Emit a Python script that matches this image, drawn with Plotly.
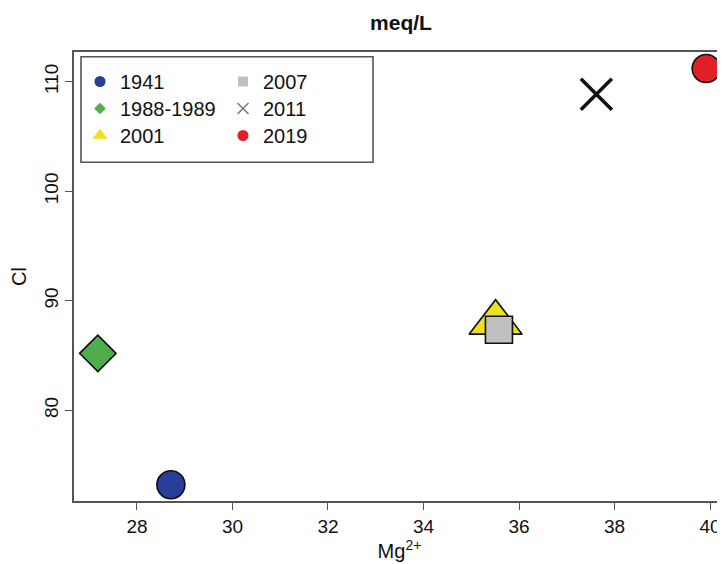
import plotly.graph_objects as go

# ---- data ----
years = ["1941", "1988-1989", "2001", "2007", "2011", "2019"]
mg = [28.71, 27.18, 35.51, 35.58, 37.62, 39.92]
cl = [73.2, 85.2, 88.0, 87.35, 108.85, 111.2]

x_ticks = [28, 30, 32, 34, 36, 38, 40]
y_ticks = [80, 90, 100, 110]

# ---- styling ----
symbols = ["circle", "diamond", "triangle-up", "square", "x-thin-open", "circle"]
fills = ["#283f99", "#4fae4c", "#ede11b", "#c0c0c0", "#111111", "#e21f26"]
sizes = [28, 28, 46, 27, 31, 28]
leg_sizes = [11, 9, 13, 10, 11, 11]
leg_colors = ["#283f99", "#4fae4c", "#ede11b", "#c0c0c0", "#777777", "#e21f26"]
FONT = "Liberation Sans, Arial, Helvetica, sans-serif"

# page body has an 8px margin: figure is drawn 8px right/down of the window corner
OFF = 8
W, H = 725 - OFF, 564 - OFF
L, T, B = 74 - OFF, 52 - OFF, 564 - 501
pw, ph = W - L, H - T - B


def px(xp):  # window pixel -> paper x
    return (xp - OFF - L) / pw


def py(yp):  # window pixel -> paper y
    return (H - B - (yp - OFF)) / ph


fig = go.Figure()

for i, yr in enumerate(years):
    is_x = symbols[i].startswith("x")
    fig.add_trace(go.Scatter(
        x=[mg[i]], y=[cl[i]], mode="markers", name=yr, showlegend=False,
        marker=dict(symbol=symbols[i], size=sizes[i], color=fills[i],
                    line=dict(color="#111111", width=3.5 if is_x else 1.6)),
    ))

# legend rows: (left column entry, right column entry)
rows = [(0, 3), (1, 4), (2, 5)]
row_y = [82, 109, 136]
leg_names = ["legend", "legend2", "legend3"]
for r, (a, b) in enumerate(rows):
    for i in (a, b):
        is_x = symbols[i].startswith("x")
        fig.add_trace(go.Scatter(
            x=[None], y=[None], mode="markers", name=years[i],
            legend=leg_names[r],
            marker=dict(symbol=symbols[i], size=leg_sizes[i], color=leg_colors[i],
                        line=dict(color=leg_colors[i], width=1.5 if is_x else 0)),
        ))

leg_common = dict(font=dict(family=FONT, size=20, color="#111111"),
                  bgcolor="rgba(0,0,0,0)", borderwidth=0, orientation="h",
                  itemsizing="trace", xanchor="left", yanchor="top",
                  entrywidth=98, entrywidthmode="pixels")
legends = {leg_names[r]: dict(x=px(80), y=py(row_y[r] - 20), **leg_common)
           for r in range(3)}

fig.update_layout(
    width=W, height=H,
    margin=dict(l=L, r=0, t=T, b=B),
    paper_bgcolor="white", plot_bgcolor="white",
    font=dict(family=FONT, size=19, color="#111111"),
    title=dict(text="<b>meq/L</b>", x=px(401), xref="paper", xanchor="center",
               y=1 - (23 - OFF) / H, yanchor="middle",
               font=dict(family=FONT, size=21, color="#111111")),
    xaxis=dict(range=[26.681, 40.314], tickvals=x_ticks, ticks="outside",
               ticklen=7, tickwidth=1.3, tickcolor="#555555",
               showline=True, linecolor="#555555", linewidth=1.6, mirror=True,
               showgrid=False, zeroline=False,
               tickfont=dict(family=FONT, size=19, color="#111111"),
               title=dict(text="Mg<sup>2+</sup>", standoff=4,
                          font=dict(family=FONT, size=20, color="#111111"))),
    yaxis=dict(range=[71.72, 112.71], tickvals=y_ticks, ticks="outside",
               ticklen=7, tickwidth=1.3, tickcolor="#555555", tickangle=-90,
               showline=True, linecolor="#555555", linewidth=1.6, mirror=False,
               showgrid=False, zeroline=False,
               tickfont=dict(family=FONT, size=19, color="#111111"),
               title=dict(text="Cl", standoff=16,
                          font=dict(family=FONT, size=20, color="#111111"))),
    shapes=[dict(type="rect", xref="paper", yref="paper",
                 x0=px(81), x1=px(373), y0=py(162.3), y1=py(56.7),
                 line=dict(color="#555555", width=1.6), fillcolor="rgba(0,0,0,0)")],
    **legends,
)

fig.write_html("out.html")
